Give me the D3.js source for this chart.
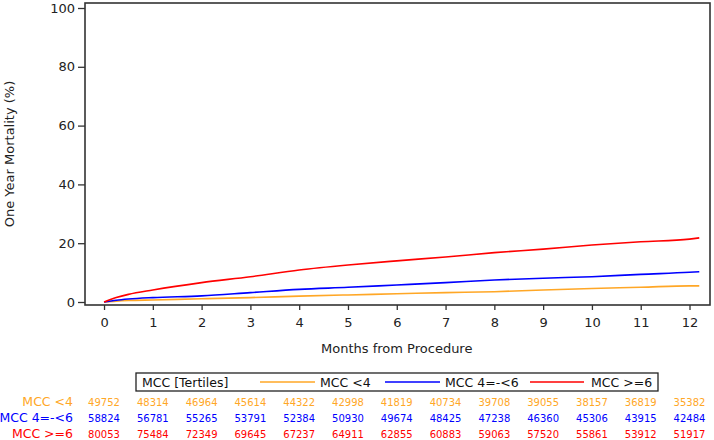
<!DOCTYPE html>
<html>
<head>
<meta charset="utf-8">
<script src="https://cdn.jsdelivr.net/npm/d3@7"></script>
<style>
  body { margin: 0; background: #fff; }
  text { font-family: "DejaVu Sans", Verdana, sans-serif; }
</style>
</head>
<body>
<div id="chart"></div>
<script>
// time points (months) and cumulative mortality (%)
const months = [0, 0.25, 0.5, 1, 2, 3, 4, 5, 6, 7, 8, 9, 10, 11, 12, 12.2];
const mccLow = [0, 0.3, 0.5, 0.7, 1.1, 1.5, 2.0, 2.4, 2.8, 3.2, 3.5, 4.1, 4.6, 5.0, 5.5, 5.5];
const mccMid = [0, 0.6, 1.0, 1.5, 2.1, 3.2, 4.3, 5.0, 5.8, 6.6, 7.5, 8.1, 8.6, 9.4, 10.1, 10.3];
const mccHigh = [0, 1.5, 2.6, 4.1, 6.6, 8.6, 10.9, 12.6, 14.0, 15.3, 16.8, 18.0, 19.4, 20.5, 21.4, 21.8];

const groupNames = ["MCC <4", "MCC 4=-<6", "MCC >=6"];
const groupColors = ["#FFA726", "#0000FF", "#FF0000"];

// numbers at risk, months 0..12
const riskMonths = [0, 1, 2, 3, 4, 5, 6, 7, 8, 9, 10, 11, 12];
const riskLow = [49752, 48314, 46964, 45614, 44322, 42998, 41819, 40734, 39708, 39055, 38157, 36819, 35382];
const riskMid = [58824, 56781, 55265, 53791, 52384, 50930, 49674, 48425, 47238, 46360, 45306, 43915, 42484];
const riskHigh = [80053, 75484, 72349, 69645, 67237, 64911, 62855, 60883, 59063, 57520, 55861, 53912, 51917];

const xTicks = [0, 1, 2, 3, 4, 5, 6, 7, 8, 9, 10, 11, 12];
const yTicks = [0, 20, 40, 60, 80, 100];

const W = 714, H = 440;
const plotL = 85, plotR = 710, plotT = 3, plotB = 305;

const svg = d3.select("#chart").append("svg")
    .attr("width", W).attr("height", H);

const x = d3.scaleLinear().domain([-0.39, 12.42]).range([plotL, plotR]);
const y = d3.scaleLinear().domain([-1.02, 101.7]).range([plotB, plotT]);

// axes
const xAxis = svg.append("g")
    .attr("transform", `translate(0,${plotB})`)
    .call(d3.axisBottom(x).tickValues(xTicks).tickSize(5).tickPadding(8));
const yAxis = svg.append("g")
    .attr("transform", `translate(${plotL},0)`)
    .call(d3.axisLeft(y).tickValues(yTicks).tickSize(7).tickPadding(3));

[xAxis, yAxis].forEach(a => {
    a.select(".domain").remove();
    a.selectAll(".tick line").attr("stroke", "#333").attr("stroke-width", 1.3);
    a.selectAll(".tick text")
        .style("font-size", "13px")
        .style("font-family", "'DejaVu Sans', Verdana, sans-serif")
        .attr("fill", "#222");
});

// frame
svg.append("rect")
    .attr("x", plotL).attr("y", plotT)
    .attr("width", plotR - plotL).attr("height", plotB - plotT)
    .attr("fill", "none").attr("stroke", "#333").attr("stroke-width", 1.6);

// axis titles
svg.append("text")
    .attr("x", x(6)).attr("y", 353)
    .attr("text-anchor", "middle")
    .style("font-size", "13px").attr("fill", "#222")
    .text("Months from Procedure");

svg.append("text")
    .attr("transform", `translate(14,154) rotate(-90)`)
    .attr("text-anchor", "middle")
    .style("font-size", "13px").attr("fill", "#222")
    .text("One Year Mortality (%)");

// curves
const line = d3.line()
    .x(d => x(d[0]))
    .y(d => y(d[1]))
    .curve(d3.curveMonotoneX);

[mccLow, mccMid, mccHigh].forEach((vals, i) => {
    svg.append("path")
        .datum(months.map((m, j) => [m, vals[j]]))
        .attr("d", line)
        .attr("fill", "none")
        .attr("stroke", groupColors[i])
        .attr("stroke-width", 1.6);
});

// legend
const lg = svg.append("g");
lg.append("rect")
    .attr("x", 136).attr("y", 373)
    .attr("width", 522).attr("height", 18)
    .attr("fill", "#fff").attr("stroke", "#222").attr("stroke-width", 1.3);
lg.append("text")
    .attr("x", 142).attr("y", 386.5)
    .style("font-size", "12.5px").attr("fill", "#111")
    .text("MCC [Tertiles]");
const legendItems = [
    {x1: 260, x2: 315, tx: 320},
    {x1: 385, x2: 440, tx: 445},
    {x1: 530, x2: 584, tx: 591}
];
legendItems.forEach((it, i) => {
    lg.append("line")
        .attr("x1", it.x1).attr("x2", it.x2)
        .attr("y1", 382).attr("y2", 382)
        .attr("stroke", groupColors[i]).attr("stroke-width", 1.6);
    lg.append("text")
        .attr("x", it.tx).attr("y", 386.5)
        .style("font-size", "12.5px").attr("fill", "#111")
        .text(groupNames[i]);
});

// at-risk table
const rowY = [406, 422, 438];
[riskLow, riskMid, riskHigh].forEach((row, i) => {
    svg.append("text")
        .attr("x", 73).attr("y", rowY[i])
        .attr("text-anchor", "end")
        .style("font-size", "12.5px")
        .attr("fill", groupColors[i])
        .text(groupNames[i]);
    svg.append("g").selectAll("text")
        .data(row)
        .enter()
        .append("text")
        .attr("x", (d, j) => x(riskMonths[j]))
        .attr("y", rowY[i])
        .attr("text-anchor", "middle")
        .style("font-size", "10px")
        .attr("fill", groupColors[i])
        .text(d => d);
});
</script>
</body>
</html>
